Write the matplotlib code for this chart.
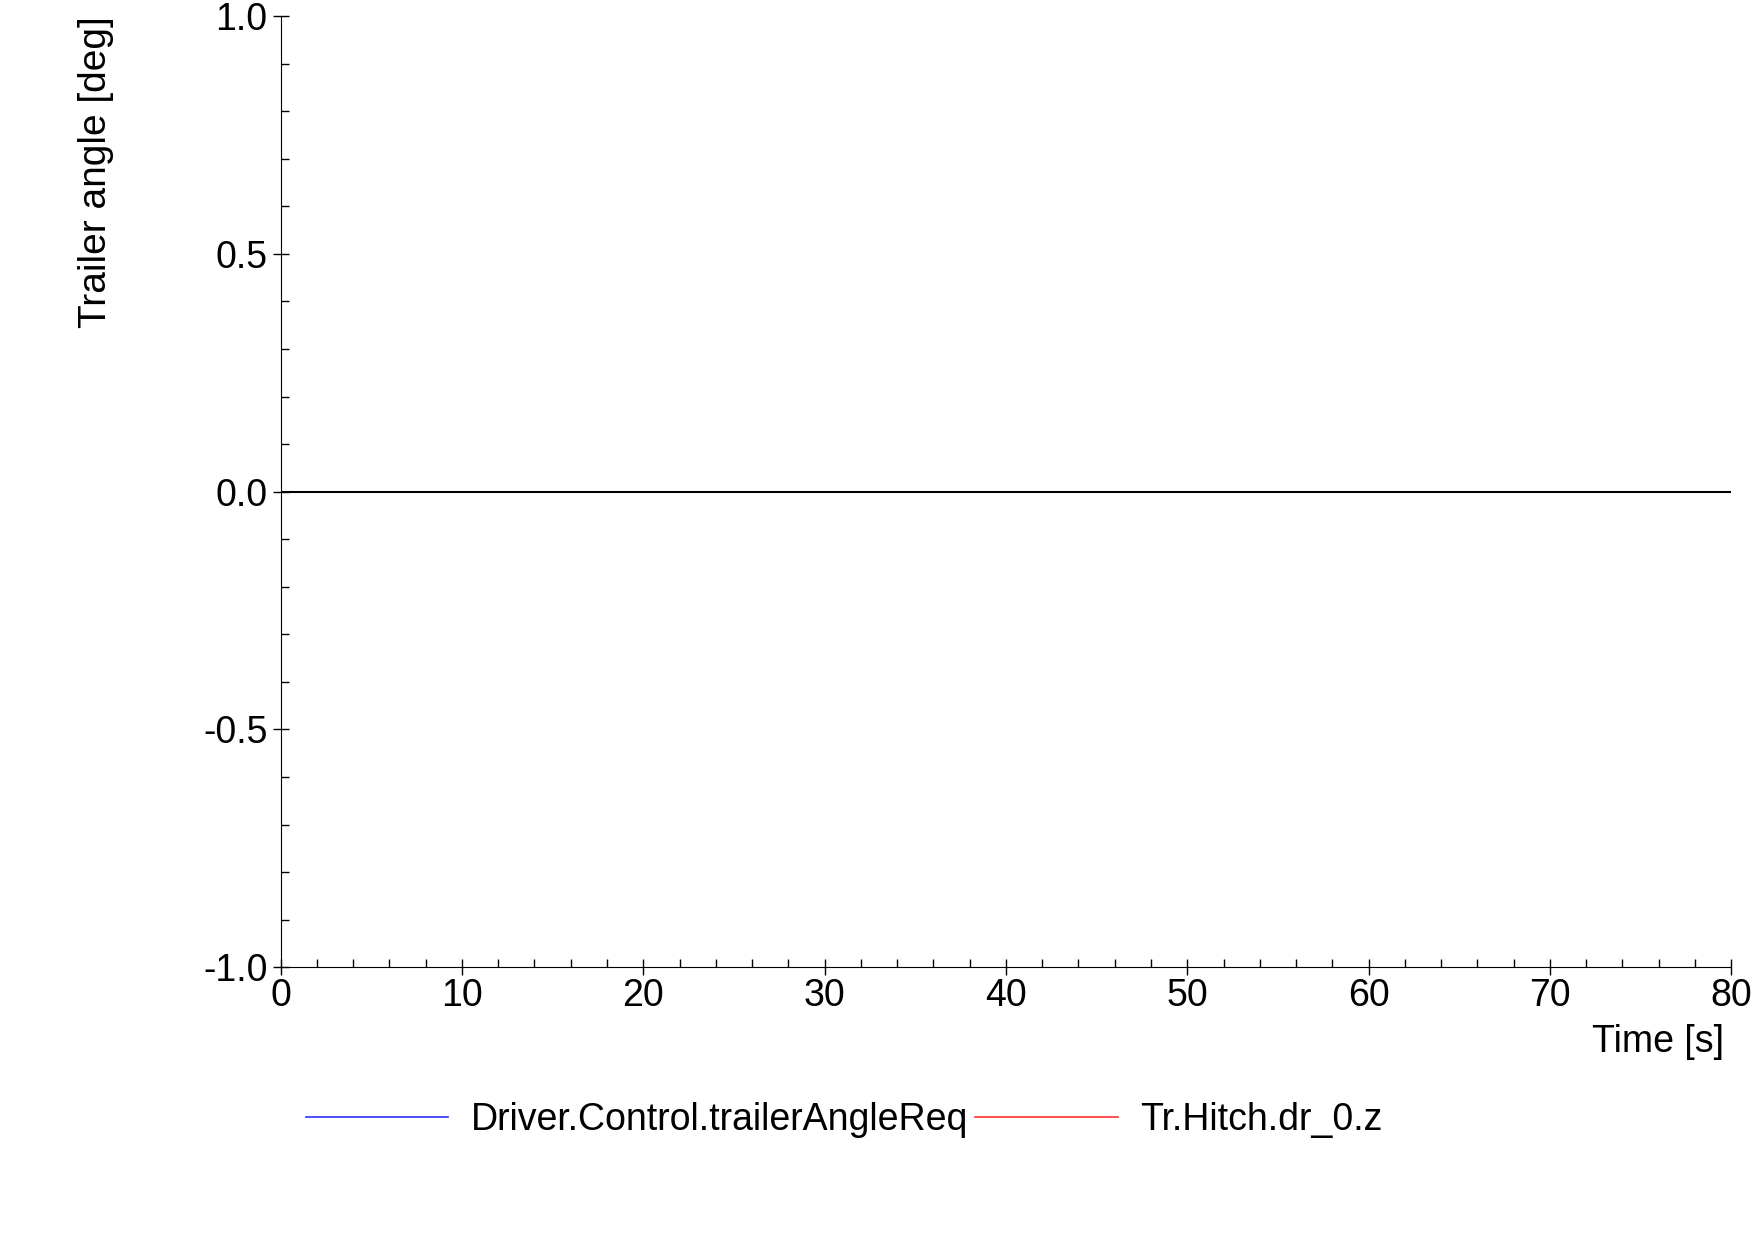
import matplotlib.pyplot as plt
import numpy as np
from matplotlib.ticker import MultipleLocator

plt.rcParams['font.family'] = ['Liberation Sans', 'DejaVu Sans']

# simulation output: both signals stay at zero
time = [0, 80]
trailer_angle_req = [0.0, 0.0]
hitch_dr_z = [0.0, 0.0]

fig = plt.figure(figsize=(17.54, 12.40), dpi=100)
ax = fig.add_axes([0.160, 0.220, 0.827, 0.767])

ax.plot(time, trailer_angle_req, color='#3030ff', lw=1.2, label='Driver.Control.trailerAngleReq')
ax.plot(time, hitch_dr_z, color='#ff3030', lw=1.2, label='Tr.Hitch.dr_0.z')
ax.axhline(0, color='black', lw=1.5)

ax.set_xlim(0, 80)
ax.set_ylim(-1, 1)
ax.xaxis.set_major_locator(MultipleLocator(10))
ax.xaxis.set_minor_locator(MultipleLocator(2))
ax.yaxis.set_major_locator(MultipleLocator(0.5))
ax.yaxis.set_minor_locator(MultipleLocator(0.1))
ax.yaxis.set_major_formatter(lambda v, p: f"{v:.1f}")
for s in ('top', 'right'):
    ax.spines[s].set_visible(False)
ax.tick_params(which='major', direction='inout', length=12, labelsize=27, width=1)
ax.tick_params(which='minor', direction='in', length=6, width=1)
ax.tick_params(axis='x', pad=2)

ax.set_ylabel('Trailer angle [deg]', fontsize=28)
ax.yaxis.set_label_coords(-0.115, 1.0, transform=ax.transAxes)
ax.yaxis.label.set_ha('right')
ax.set_xlabel('Time [s]', fontsize=27)
ax.xaxis.set_label_coords(0.995, -0.06)
ax.xaxis.label.set_ha('right')

fig.legend(loc='lower left', bbox_to_anchor=(0.155, 0.055), ncol=2, frameon=False,
           fontsize=27, handlelength=3.8, columnspacing=0.2, handletextpad=0.6)

fig.savefig('out.png', dpi=100)
